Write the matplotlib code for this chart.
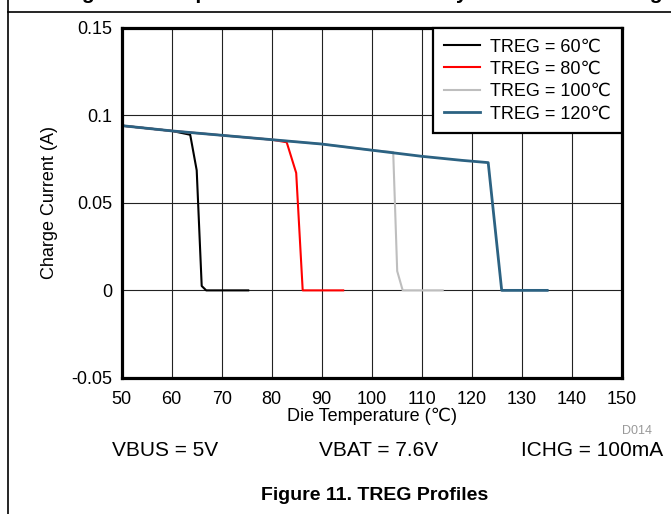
import matplotlib
matplotlib.use("Agg")
import matplotlib.pyplot as plt
from matplotlib.lines import Line2D

plt.rcParams.update({"font.family": ["Liberation Sans", "DejaVu Sans"], "font.size": 13})

# curves (die temperature in C, charge current in A)
t_60 = [50, 60, 63.7, 65.0, 66.0, 66.9, 75.3]
i_60 = [0.094, 0.091, 0.0888, 0.0685, 0.0025, 0.0, 0.0]
t_80 = [50, 60, 70, 80, 83.0, 84.9, 86.2, 94.3]
i_80 = [0.094, 0.091, 0.0885, 0.086, 0.0845, 0.067, 0.0, 0.0]
t_100 = [50, 60, 70, 80, 90, 100, 104.3, 105.1, 106.2, 114.2]
i_100 = [0.094, 0.091, 0.0885, 0.086, 0.0835, 0.080, 0.0789, 0.011, 0.0, 0.0]
t_120 = [50, 60, 70, 80, 90, 100, 110, 118, 123.3, 126.0, 135.1]
i_120 = [0.094, 0.091, 0.0885, 0.086, 0.0835, 0.080, 0.0765, 0.0742, 0.0729, 0.0, 0.0]

labels = ["TREG = 60℃", "TREG = 80℃", "TREG = 100℃", "TREG = 120℃"]
colors = ["#000000", "#FF0000", "#BEBEBE", "#2C6282"]
widths = [1.5, 1.5, 1.5, 2.0]

xticks = list(range(50, 151, 10))
yticks = [-0.05, 0, 0.05, 0.1, 0.15]
ytick_labels = ["-0.05", "0", "0.05", "0.1", "0.15"]
conditions = ["VBUS = 5V", "VBAT = 7.6V", "ICHG = 100mA"]

fig = plt.figure(figsize=(6.71, 5.14), dpi=100)
ax = fig.add_axes([121.7/671, 1-378/514, 500/671, 350.5/514])

for t, i, lab, c, w in zip([t_60, t_80, t_100, t_120], [i_60, i_80, i_100, i_120], labels, colors, widths):
    ax.plot(t, i, color=c, lw=w, label=lab, solid_joinstyle="round")

ax.set_xlim(50, 150); ax.set_ylim(-0.05, 0.15)
ax.set_xticks(xticks); ax.set_yticks(yticks); ax.set_yticklabels(ytick_labels)
ax.grid(True, color="#222222", lw=0.8)
ax.set_axisbelow(True)
ax.tick_params(length=0, labelsize=13)
ax.tick_params(axis="x", pad=9); ax.tick_params(axis="y", pad=7)
for s in ax.spines.values():
    s.set_linewidth(2.3)
ax.set_xlabel("Die Temperature (℃)", fontsize=13)
ax.set_ylabel("Charge Current (A)", fontsize=13)
ax.xaxis.set_label_coords(0.5, -0.085)
ax.yaxis.set_label_coords(-0.128, 0.5)

leg = ax.legend(loc="upper right", bbox_to_anchor=(1, 1), borderaxespad=0, fontsize=13,
                handlelength=2.0, handletextpad=0.55, labelspacing=0.3, borderpad=0.6,
                fancybox=False, framealpha=1, edgecolor="black")
leg.get_frame().set_linewidth(1.6)

fig.text(652/671, 1-431/514, "D014", color="#999999", fontsize=9, ha="right", va="center")
for x0, s in zip([112, 319, 521], conditions):
    fig.text(x0/671, 1-450/514, s, fontsize=15, ha="left", va="center")
fig.text(375/671, 1-495/514, "Figure 11. TREG Profiles", fontsize=14, fontweight="bold", ha="center", va="center")

# page fragments: cut-off caption of the figure above, and the table rules
fig.text(18/671, 1+1/514, "Heating Over Temperature Limits and Battery Current Monitoring",
         fontsize=15, fontweight="bold", ha="left", va="baseline")
fig.add_artist(Line2D([7.5/671, 7.5/671], [0, 1], color="black", lw=1.2, transform=fig.transFigure))
fig.add_artist(Line2D([7.5/671, 1], [1-11.5/514, 1-11.5/514], color="black", lw=1.2, transform=fig.transFigure))

fig.savefig("out.png", dpi=100)
